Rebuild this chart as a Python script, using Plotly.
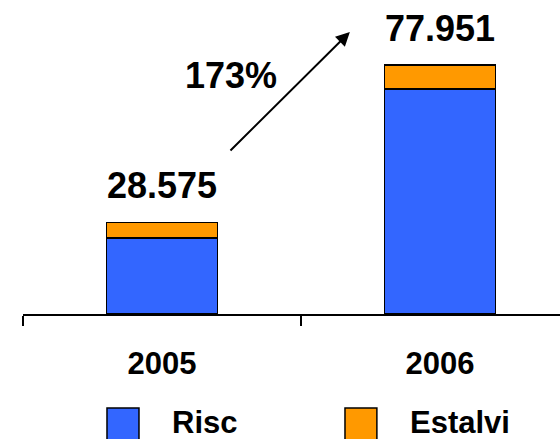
import plotly.graph_objects as go

years = ["2005", "2006"]
series_names = ["Risc", "Estalvi"]
risc = [23.8, 70.4]
estalvi = [4.775, 7.551]
colors = ["#3366FF", "#FF9900"]

totals = [r + e for r, e in zip(risc, estalvi)]
growth = (totals[1] / totals[0] - 1) * 100

FONT = "Liberation Sans, Arial, sans-serif"

fig = go.Figure()
for name, vals, col in zip(series_names, [risc, estalvi], colors):
    fig.add_trace(go.Bar(
        x=years, y=vals, name=name, width=0.4,
        marker=dict(color=col, line=dict(color="black", width=1.5)),
        showlegend=False, hoverinfo="skip",
    ))

annotations = []
for i, tot in enumerate(totals):
    annotations.append(dict(
        x=i, y=tot, xref="x", yref="y", text=f"{tot:.3f}", showarrow=False,
        xanchor="center", yanchor="middle", yshift=37,
        font=dict(family=FONT, size=36, color="black", weight="bold"),
    ))

annotations.append(dict(
    x=0.248, y=74.8, xref="x", yref="y", text=f"{growth:.0f}%", showarrow=False,
    xanchor="center", yanchor="middle",
    font=dict(family=FONT, size=36, color="black", weight="bold"),
))
annotations.append(dict(
    x=0.676, y=88.3, xref="x", yref="y", ax=0.241, ay=50.7, axref="x", ayref="y",
    text="", showarrow=True, arrowhead=2, arrowsize=1.4, arrowwidth=2, arrowcolor="black",
))

# legend (manual, large squares)
leg_sq_x = [(0.1564, 0.216), (0.5996, 0.659)]
leg_txt_x = [0.2735, 0.717]
shapes = []
for (x0, x1), col, tx, name in zip(leg_sq_x, colors, leg_txt_x, series_names):
    shapes.append(dict(type="rect", xref="paper", yref="paper", x0=x0, x1=x1,
                       y0=-0.401, y1=-0.299, fillcolor=col,
                       line=dict(color="black", width=1.5)))
    annotations.append(dict(
        x=tx, y=-0.347, xref="paper", yref="paper", text=name, showarrow=False,
        xanchor="left", yanchor="middle",
        font=dict(family=FONT, size=31, color="black", weight="bold"),
    ))

fig.update_layout(
    width=560, height=439,
    margin=dict(l=23, r=0, t=0, b=125),
    barmode="stack",
    plot_bgcolor="white", paper_bgcolor="white",
    annotations=annotations, shapes=shapes,
    xaxis=dict(
        type="category", range=[-0.5, 1.432],
        showline=True, linecolor="black", linewidth=2,
        ticks="outside", tickson="boundaries", ticklen=10, tickwidth=2, tickcolor="black",
        showgrid=False, zeroline=False, ticklabelstandoff=21,
        tickfont=dict(family=FONT, size=31, color="black", weight="bold"),
    ),
    yaxis=dict(range=[0, 98.3], visible=False, showgrid=False, zeroline=False),
)

fig.write_html("out.html", config={"displayModeBar": False},
               post_script="document.body.style.margin='0';")
